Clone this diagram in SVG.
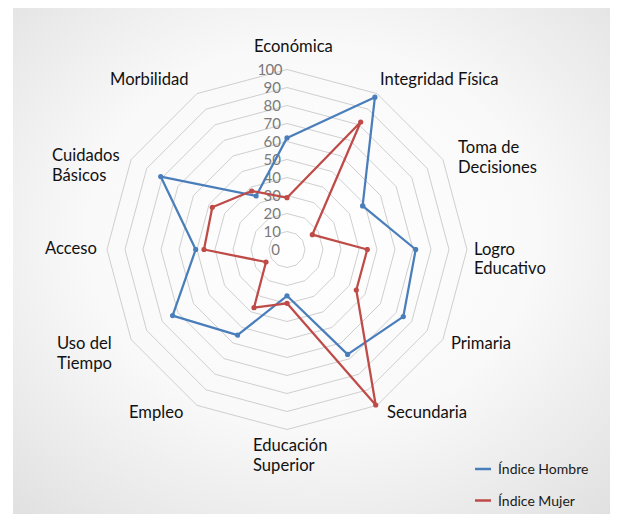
<svg xmlns="http://www.w3.org/2000/svg" width="622" height="522" viewBox="0 0 622 522">
<defs>
<radialGradient id="bg" cx="50%" cy="45%" r="75%">
<stop offset="0" stop-color="#ffffff"/>
<stop offset="0.5" stop-color="#f9f9f9"/>
<stop offset="1" stop-color="#e0e0e0"/>
</radialGradient>
<marker id="mb" viewBox="0 0 6 6" refX="3" refY="3" markerWidth="6" markerHeight="6" markerUnits="userSpaceOnUse"><circle cx="3" cy="3" r="2.6" fill="#4a7ebb"/></marker>
<marker id="mr" viewBox="0 0 6 6" refX="3" refY="3" markerWidth="6" markerHeight="6" markerUnits="userSpaceOnUse"><circle cx="3" cy="3" r="2.6" fill="#be4b48"/></marker>
</defs>
<style>
.grid{fill:none;stroke:#cfcfcf;stroke-width:1}
.cat{font-family:Lato,"Liberation Sans",sans-serif;font-size:16.6px;fill:#111111}
.tick{font-family:Lato,"Liberation Sans",sans-serif;font-size:15px;fill:#7a7a7a;text-anchor:end}
.leg{font-family:Lato,"Liberation Sans",sans-serif;font-size:14px;fill:#1a1a1a}
.sb{fill:none;stroke:#4a7ebb;stroke-width:2.25;stroke-linejoin:round;marker-start:url(#mb);marker-mid:url(#mb)}
.sr{fill:none;stroke:#be4b48;stroke-width:2.25;stroke-linejoin:round;marker-start:url(#mr);marker-mid:url(#mr)}
</style>
<rect x="0" y="0" width="622" height="522" fill="#ffffff"/>
<rect x="13" y="8" width="597" height="506" fill="url(#bg)"/>
<g id="gridlines">
<polygon class="grid" points="287,231.5 296,233.91 302.59,240.5 305,249.5 302.59,258.5 296,265.09 287,267.5 278,265.09 271.41,258.5 269,249.5 271.41,240.5 278,233.91"/>
<polygon class="grid" points="287,213.5 305,218.32 318.18,231.5 323,249.5 318.18,267.5 305,280.68 287,285.5 269,280.68 255.82,267.5 251,249.5 255.82,231.5 269,218.32"/>
<polygon class="grid" points="287,195.5 314,202.74 333.77,222.5 341,249.5 333.77,276.5 314,296.27 287,303.5 260,296.27 240.23,276.5 233,249.5 240.23,222.5 260,202.74"/>
<polygon class="grid" points="287,177.5 323,187.15 349.35,213.5 359,249.5 349.35,285.5 323,311.85 287,321.5 251,311.85 224.65,285.5 215,249.5 224.65,213.5 251,187.15"/>
<polygon class="grid" points="287,159.5 332,171.56 364.94,204.5 377,249.5 364.94,294.5 332,327.44 287,339.5 242,327.44 209.06,294.5 197,249.5 209.06,204.5 242,171.56"/>
<polygon class="grid" points="287,141.5 341,155.97 380.53,195.5 395,249.5 380.53,303.5 341,343.03 287,357.5 233,343.03 193.47,303.5 179,249.5 193.47,195.5 233,155.97"/>
<polygon class="grid" points="287,123.5 350,140.38 396.12,186.5 413,249.5 396.12,312.5 350,358.62 287,375.5 224,358.62 177.88,312.5 161,249.5 177.88,186.5 224,140.38"/>
<polygon class="grid" points="287,105.5 359,124.79 411.71,177.5 431,249.5 411.71,321.5 359,374.21 287,393.5 215,374.21 162.29,321.5 143,249.5 162.29,177.5 215,124.79"/>
<polygon class="grid" points="287,87.5 368,109.2 427.3,168.5 449,249.5 427.3,330.5 368,389.8 287,411.5 206,389.8 146.7,330.5 125,249.5 146.7,168.5 206,109.2"/>
<polygon class="grid" points="287,69.5 377,93.62 442.88,159.5 467,249.5 442.88,339.5 377,405.38 287,429.5 197,405.38 131.12,339.5 107,249.5 131.12,159.5 197,93.62"/>
</g>
<g id="axis-ticks">
<text class="tick" x="280" y="254.5">0</text>
<text class="tick" x="281" y="236.5">10</text>
<text class="tick" x="281" y="218.5">20</text>
<text class="tick" x="281" y="200.5">30</text>
<text class="tick" x="281" y="182.5">40</text>
<text class="tick" x="281" y="164.5">50</text>
<text class="tick" x="281" y="146.5">60</text>
<text class="tick" x="281" y="128.5">70</text>
<text class="tick" x="281" y="110.5">80</text>
<text class="tick" x="281" y="92.5">90</text>
<text class="tick" x="282" y="74.5" letter-spacing="-0.5">100</text>
</g>
<g id="connectors">
<polygon id="serie-hombre" class="sb" points="287,137.9 374.9,97.2 362.6,205.9 415.7,249.5 403.3,316.6 347.6,354.4 287,295.8 237.5,335.2 172.6,315.6 195.7,249.5 160.7,176.6 256.1,196"/>
<polygon id="serie-mujer" class="sr" points="287,197.7 360.7,122 312.3,234.7 367.3,249.5 356.3,290 375.7,405 287,303.3 254,307.7 266,262 204,249.5 212.3,207.3 251.7,191"/>
</g>
<g id="economica"><text class="cat" x="254" y="52">Económica</text></g>
<g id="integridad"><text class="cat" x="380" y="85">Integridad Física</text></g>
<g id="toma"><text class="cat" x="458" y="153">Toma de</text><text class="cat" x="458" y="173">Decisiones</text></g>
<g id="logro"><text class="cat" x="474" y="255">Logro</text><text class="cat" x="474" y="274">Educativo</text></g>
<g id="primaria"><text class="cat" x="451" y="349">Primaria</text></g>
<g id="secundaria"><text class="cat" x="387" y="418">Secundaria</text></g>
<g id="superior"><text class="cat" x="253" y="451">Educación</text><text class="cat" x="253" y="471">Superior</text></g>
<g id="empleo"><text class="cat" x="129" y="418">Empleo</text></g>
<g id="uso"><text class="cat" x="57" y="349">Uso del</text><text class="cat" x="57" y="369">Tiempo</text></g>
<g id="acceso"><text class="cat" x="45" y="254">Acceso</text></g>
<g id="cuidados"><text class="cat" x="52" y="161">Cuidados</text><text class="cat" x="52" y="181">Básicos</text></g>
<g id="morbilidad"><text class="cat" x="110" y="85">Morbilidad</text></g>
<g id="legend">
<line x1="475" y1="469" x2="491" y2="469" stroke="#4a7ebb" stroke-width="2.5"/>
<text class="leg" x="498" y="474">Índice Hombre</text>
<line x1="475" y1="500.5" x2="491" y2="500.5" stroke="#be4b48" stroke-width="2.5"/>
<text class="leg" x="498" y="505.5">Índice Mujer</text>
</g>
</svg>
